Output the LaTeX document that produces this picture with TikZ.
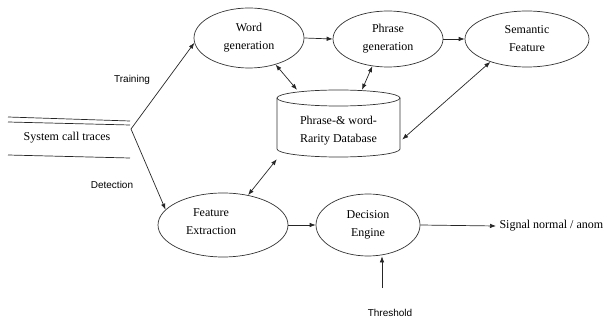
\documentclass[tikz,border=0pt]{standalone}
\usepackage{fontspec}
\setmainfont{Liberation Serif}
\newfontfamily\labelfont{Liberation Sans}
\usetikzlibrary{arrows.meta,shapes.geometric}
\begin{document}
\begin{tikzpicture}[x=1pt,y=-1pt,
  every node/.style={font=\fontsize{12}{18}\selectfont},
  ell/.style={draw=black!80,line width=0.7pt,ellipse,inner sep=0pt,align=center},
  lbl/.style={font=\labelfont\fontsize{10}{12}\selectfont},
  conn/.style={line width=0.7pt,draw=black!85,-{Latex[length=6pt,width=4.5pt]}},
  bconn/.style={line width=0.7pt,draw=black!85,{Latex[length=6pt,width=4.5pt]}-{Latex[length=6pt,width=4.5pt]}},
  seg/.style={line width=0.7pt,draw=black!85}]
\useasboundingbox (0,0) rectangle (607,320);

% ellipses
\node[ell,minimum width=110pt,minimum height=60pt] (word) at (249,38) {Word\\generation};
\node[ell,minimum width=110pt,minimum height=56pt] (phrase) at (388,39) {Phrase\\generation};
\node[ell,minimum width=124pt,minimum height=56pt] (sem) at (527,39) {Semantic\\Feature};
\node[ell,minimum width=130pt,minimum height=64pt] (fe) at (223,225) {};
\node[align=center] (fetext) at (211,222) {Feature\\Extraction};
\node[ell,minimum width=104pt,minimum height=62pt] (dec) at (368,225) {Decision\\Engine};

% database cylinder
\node[inner sep=0pt,minimum width=123pt,minimum height=67pt,align=center] (db) at (338.5,123.5) {};
\draw[line width=0.7pt,draw=black!80] (338.5,98) ellipse [x radius=61.5pt, y radius=8pt];
\draw[line width=0.7pt,draw=black!80] (277,98) -- (277,149) arc[start angle=180,end angle=360,x radius=61.5pt,y radius=8pt] -- (400,98);
\node[align=center] (dbtext) at (338.5,131) {Phrase-\& word-\\Rarity Database};

% system call traces
\draw[seg] (8,117) -- (130,121);
\draw[seg] (8,122) -- (130,125);
\draw[seg] (8,155) -- (130,158);
\node (sys) at (67,138) {System call traces};
\coordinate (apex) at (131,129);

% labels
\node[lbl] (train) at (132,80) {Training};
\node[lbl] (det) at (112,185) {Detection};
\node[lbl] (thr) at (390,313) {Threshold};
\node[anchor=west] (sig) at (496,226) {Signal normal / anom};
\coordinate (thrtop) at (382,288);

% connectors
\draw[conn] (apex) -- (word.185);
\draw[conn] (apex) -- (fe.165);
\draw[conn] (word.east) -- (phrase.west);
\draw[conn] (phrase.east) -- (sem.west);
\draw[bconn] (word.-45) -- ([xshift=-41.5pt]db.north);
\draw[bconn] (phrase.240) -- ([xshift=23.5pt]db.north);
\draw[bconn] (sem.212) -- ([shift={(2pt,-16pt)}]db.east);
\draw[bconn] (fe.50) -- ([shift={(0pt,-2pt)}]db.south west);
\draw[conn] (fe.east) -- (dec.west);
\draw[conn] (dec.east) -- (sig.west);
\draw[conn] (thrtop) -- (thrtop |- dec.south);
\end{tikzpicture}
\end{document}
